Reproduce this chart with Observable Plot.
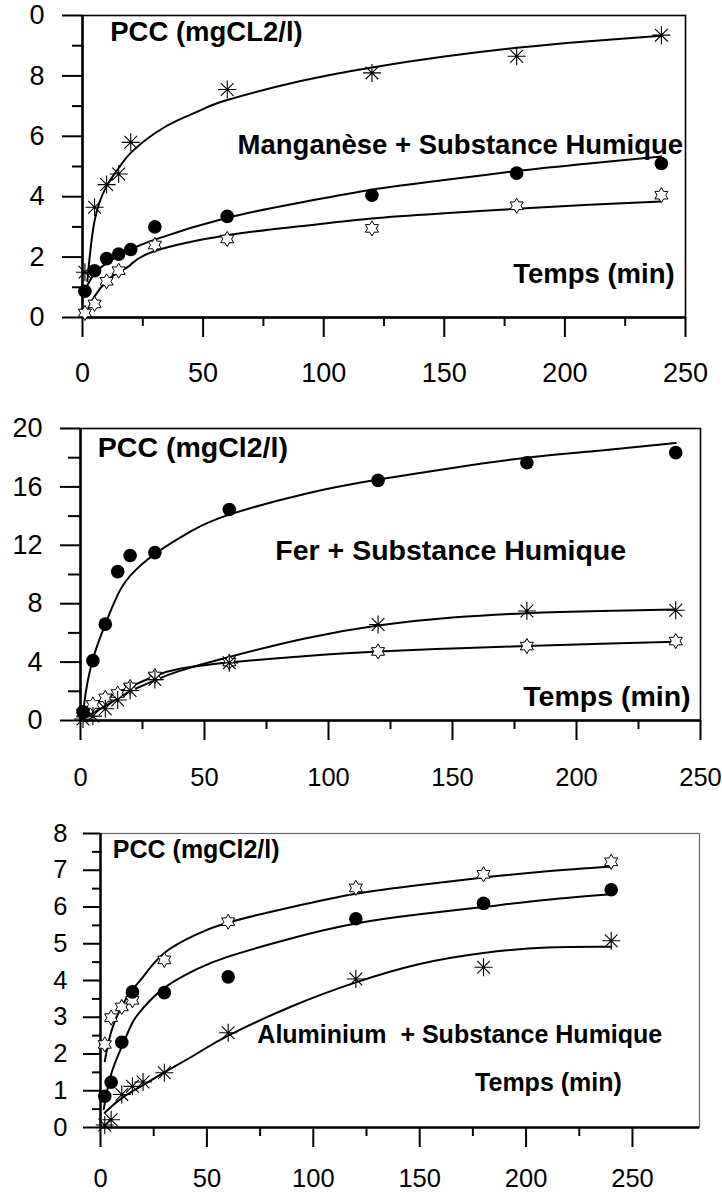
<!DOCTYPE html>
<html><head><meta charset="utf-8">
<script src="https://cdn.jsdelivr.net/npm/d3@7"></script>
<script src="https://cdn.jsdelivr.net/npm/@observablehq/plot@0.6"></script>
<style>
html,body{margin:0;padding:0;background:#fff;}
#chart{width:722px;}
#chart svg{display:block;}
#chart text{white-space:pre;}
</style></head><body><div id="chart"></div>
<script>
// ---------- Panel 1 : Manganèse + Substance Humique ----------
const mnTimes = [1, 5, 10, 15, 20, 30, 60, 120, 180, 240];
const mnCircle = [0.87, 1.55, 1.95, 2.1, 2.25, 3.0, 3.35, 4.05, 4.78, 5.1];
const mnAsterTimes = [1, 5, 10, 15, 20, 60, 120, 180, 240];
const mnAster = [1.5, 3.65, 4.4, 4.75, 5.8, 7.55, 8.1, 8.65, 9.35];
const mnStarTimes = [1, 5, 10, 15, 30, 60, 120, 180, 240];
const mnStar = [0.15, 0.45, 1.2, 1.55, 2.4, 2.6, 2.95, 3.7, 4.05];
const mnFitTimes = [2, 5, 10, 15, 20, 30, 40, 50, 60, 90, 120, 150, 180, 210, 240];
const mnAsterFit = [1.2, 3.2, 4.35, 4.95, 5.45, 6.1, 6.55, 6.9, 7.2, 7.82, 8.28, 8.64, 8.93, 9.15, 9.33];
const mnCircleFitTimes = [1, 5, 10, 15, 20, 30, 60, 90, 120, 150, 180, 210, 240];
const mnCircleFit = [0.9, 1.45, 1.8, 2.05, 2.25, 2.58, 3.3, 3.8, 4.23, 4.55, 4.85, 5.1, 5.33];
const mnStarFitTimes = [2.5, 5, 10, 15, 20, 30, 60, 90, 120, 150, 180, 210, 240];
const mnStarFit = [0.3, 0.7, 1.2, 1.5, 1.75, 2.2, 2.72, 3.02, 3.28, 3.45, 3.6, 3.73, 3.84];
const mnYTicks = [0, 2, 4, 6, 8, 10];
const mnYTickLabels = ["0", "2", "4", "6", "8", "0"];
const mnYMinor = [1, 3, 5, 7, 9];

// ---------- Panel 2 : Fer + Substance Humique ----------
const feTimes = [1, 5, 10, 15, 20, 30, 60, 120, 180, 240];
const feCircle = [0.6, 4.1, 6.6, 10.2, 11.3, 11.5, 14.45, 16.45, 17.65, 18.35];
const feAster = [0.1, 0.3, 0.8, 1.4, 2.05, 2.8, 3.95, 6.58, 7.5, 7.55];
const feStar = [0.5, 1.1, 1.55, 1.85, 2.3, 3.05, 4.0, 4.73, 5.1, 5.44];
const feCircleFitTimes = [1, 2, 5, 10, 15, 20, 30, 45, 60, 90, 120, 150, 180, 210, 240];
const feCircleFit = [0.3, 1.8, 4.2, 6.6, 8.6, 9.9, 11.4, 13.0, 14.1, 15.5, 16.5, 17.3, 18.0, 18.5, 19.0];
const feFitTimes = [1, 5, 10, 15, 20, 30, 40, 60, 90, 120, 150, 180, 210, 240];
const feAsterFit = [0.1, 0.5, 1.0, 1.5, 2.0, 2.75, 3.4, 4.35, 5.6, 6.5, 7.05, 7.35, 7.5, 7.6];
const feStarFit = [0.7, 1.1, 1.5, 1.9, 2.3, 3.05, 3.55, 3.97, 4.4, 4.72, 4.93, 5.1, 5.25, 5.4];
const feYTicks = [0, 4, 8, 12, 16, 20];
const feYTickLabels = ["0", "4", "8", "12", "16", "20"];
const feYMinor = [2, 6, 10, 14, 18];

// ---------- Panel 3 : Aluminium + Substance Humique ----------
const alTimes = [2, 5, 10, 15, 30, 60, 120, 180, 240];
const alCircle = [0.85, 1.23, 2.32, 3.69, 3.67, 4.1, 5.68, 6.1, 6.47];
const alStar = [2.26, 2.99, 3.28, 3.46, 4.56, 5.6, 6.52, 6.89, 7.23];
const alAsterTimes = [2, 5, 10, 15, 20, 30, 60, 120, 180, 240];
const alAster = [0.07, 0.21, 0.9, 1.12, 1.24, 1.49, 2.58, 4.04, 4.36, 5.08];
const alStarFitTimes = [2, 5, 10, 15, 20, 30, 45, 60, 90, 120, 150, 180, 210, 240];
const alStarFit = [1.8, 2.6, 3.3, 3.75, 4.1, 4.75, 5.25, 5.58, 6.0, 6.36, 6.6, 6.8, 6.97, 7.1];
const alCircleFitTimes = [1.5, 5, 10, 15, 20, 30, 45, 60, 90, 120, 150, 180, 210, 240];
const alCircleFit = [0.5, 1.45, 2.2, 2.85, 3.25, 3.8, 4.3, 4.65, 5.15, 5.55, 5.8, 6.0, 6.2, 6.35];
const alAsterFitTimes = [2, 10, 20, 30, 45, 60, 90, 120, 150, 180, 210, 240];
const alAsterFit = [0.4, 0.8, 1.15, 1.5, 2.0, 2.5, 3.3, 3.95, 4.45, 4.75, 4.9, 4.92];
const alYTicks = [0, 1, 2, 3, 4, 5, 6, 7, 8];
const alYTickLabels = ["0", "1", "2", "3", "4", "5", "6", "7", "8"];
const alYMinor = [0.5, 1.5, 2.5, 3.5, 4.5, 5.5, 6.5, 7.5];

const xTicks = [0, 50, 100, 150, 200, 250];
const xTickLabels = ["0", "50", "100", "150", "200", "250"];
const xMinor = [25, 75, 125, 175, 225];

// ---------- symbols ----------
const hexagram = {
  draw(ctx, size) {
    const R = Math.sqrt(size / Math.PI) * 1.05;
    const r = R / Math.sqrt(3);
    for (let i = 0; i < 12; i++) {
      const a = -Math.PI / 2 + i * Math.PI / 6;
      const rr = i % 2 === 0 ? R : r;
      const x = rr * Math.cos(a), y = rr * Math.sin(a);
      if (i === 0) ctx.moveTo(x, y); else ctx.lineTo(x, y);
    }
    ctx.closePath();
  }
};
const asterisk8 = {
  draw(ctx, size) {
    const R = Math.sqrt(size / Math.PI);
    for (let i = 0; i < 4; i++) {
      const a = i * Math.PI / 4;
      const dx = R * Math.cos(a), dy = R * Math.sin(a);
      ctx.moveTo(-dx, -dy); ctx.lineTo(dx, dy);
    }
  }
};

const zip = (ts, vs) => ts.map((t, i) => ({t, v: vs[i]}));
const FONT = "'Liberation Sans', Arial, sans-serif";

function panel(cfg) {
  const yMap = new Map(cfg.yTicks.map((d, i) => [d, cfg.yLabels[i]]));
  const xMap = new Map(xTicks.map((d, i) => [d, xTickLabels[i]]));
  const marks = [
    Plot.frame({stroke: cfg.frameColor, strokeWidth: cfg.frameWidth}),
    Plot.ruleX([0], {strokeWidth: 2.5}),
    Plot.ruleY([0], {strokeWidth: 2.5}),
    Plot.axisY(cfg.yTicks, {tickSize: cfg.yTickSize, tickPadding: cfg.yPad, tickFormat: d => yMap.get(d), fontSize: cfg.tickFont, strokeWidth: 2, label: null}),
    Plot.axisY(cfg.yMinor, {tickSize: cfg.yMinorSize, tickFormat: () => "", strokeWidth: 2, label: null}),
    Plot.axisX(xTicks, {tickSize: 20, tickPadding: cfg.xPad, tickFormat: d => xMap.get(d), fontSize: cfg.xTickFont, strokeWidth: 2, label: null}),
    Plot.axisX(xMinor, {tickSize: 9, tickFormat: () => "", strokeWidth: 2, label: null})
  ];
  for (const f of cfg.fits) marks.push(Plot.line(f, {x: "t", y: "v", curve: "natural", stroke: "black", strokeWidth: 2}));
  for (const s of cfg.series) {
    if (s.kind === "circle") marks.push(Plot.dot(s.data, {x: "t", y: "v", r: 6.8, fill: "black", stroke: "none"}));
    if (s.kind === "star") marks.push(Plot.dot(s.data, {x: "t", y: "v", r: 7.2, symbol: hexagram, fill: "white", stroke: "black", strokeWidth: 1}));
    if (s.kind === "aster") marks.push(Plot.dot(s.data, {x: "t", y: "v", r: 9, symbol: asterisk8, fill: "none", stroke: "black", strokeWidth: 1.1}));
  }
  for (const n of cfg.notes) {
    marks.push(Plot.text([n.text], {x: () => n.x, y: () => n.y, text: d => d, textAnchor: n.anchor, fontSize: cfg.noteFont, fontWeight: "bold", fill: "black"}));
  }
  return Plot.plot({
    width: 722, height: cfg.height,
    marginTop: cfg.mt, marginBottom: cfg.mb, marginLeft: cfg.ml, marginRight: cfg.mr,
    x: {domain: cfg.xDomain, label: null},
    y: {domain: cfg.yDomain, label: null},
    style: {fontFamily: FONT, color: "black", background: "white", overflow: "visible"},
    marks
  });
}

const chart = document.getElementById("chart");
chart.append(panel({
  height: 400, mt: 15, mb: 83, ml: 82, mr: 37, xDomain: [0, 250], yDomain: [0, 10],
  yTicks: mnYTicks, yLabels: mnYTickLabels, yMinor: mnYMinor, yTickSize: 20, yMinorSize: 10, yPad: 18, xPad: 25,
  tickFont: 27, xTickFont: 27, noteFont: 27.5,
  frameColor: "black", frameWidth: 1.6,
  fits: [zip(mnFitTimes, mnAsterFit), zip(mnCircleFitTimes, mnCircleFit), zip(mnStarFitTimes, mnStarFit)],
  series: [
    {kind: "aster", data: zip(mnAsterTimes, mnAster)},
    {kind: "circle", data: zip(mnTimes, mnCircle)},
    {kind: "star", data: zip(mnStarTimes, mnStar)}
  ],
  notes: [
    {text: "PCC (mgCL2/l)", x: 11.5, y: 9.45, anchor: "start"},
    {text: "Manganèse + Substance Humique", x: 249, y: 5.7, anchor: "end"},
    {text: "Temps (min)", x: 245.5, y: 1.45, anchor: "end"}
  ]
}));
chart.append(panel({
  height: 400, mt: 28, mb: 80, ml: 80, mr: 22, xDomain: [0, 250], yDomain: [0, 20],
  yTicks: feYTicks, yLabels: feYTickLabels, yMinor: feYMinor, yTickSize: 20, yMinorSize: 12, yPad: 18, xPad: 27,
  tickFont: 27, xTickFont: 25.5, noteFont: 28.5,
  frameColor: "black", frameWidth: 1.6,
  fits: [zip(feCircleFitTimes, feCircleFit), zip(feFitTimes, feAsterFit), zip(feFitTimes, feStarFit)],
  series: [
    {kind: "star", data: zip(feTimes, feStar)},
    {kind: "aster", data: zip(feTimes, feAster)},
    {kind: "circle", data: zip(feTimes, feCircle)}
  ],
  notes: [
    {text: "PCC (mgCl2/l)", x: 7, y: 18.7, anchor: "start"},
    {text: "Fer + Substance Humique", x: 220, y: 11.6, anchor: "end"},
    {text: "Temps (min)", x: 246, y: 1.62, anchor: "end"}
  ]
}));
chart.append(panel({
  height: 396, mt: 33, mb: 69, ml: 100, mr: 23, xDomain: [0, 281.5], yDomain: [0, 8],
  yTicks: alYTicks, yLabels: alYTickLabels, yMinor: alYMinor, yTickSize: 17, yMinorSize: 8, yPad: 16, xPad: 21,
  tickFont: 25.5, xTickFont: 25.5, noteFont: 25,
  frameColor: "#666", frameWidth: 1.2,
  fits: [zip(alStarFitTimes, alStarFit), zip(alCircleFitTimes, alCircleFit), zip(alAsterFitTimes, alAsterFit)],
  series: [
    {kind: "star", data: zip(alTimes, alStar)},
    {kind: "circle", data: zip(alTimes, alCircle)},
    {kind: "aster", data: zip(alAsterTimes, alAster)}
  ],
  notes: [
    {text: "PCC (mgCl2/l)", x: 5.8, y: 7.55, anchor: "start"},
    {text: "Aluminium  + Substance Humique", x: 264, y: 2.53, anchor: "end"},
    {text: "Temps (min)", x: 245, y: 1.22, anchor: "end"}
  ]
}));
</script>
</body></html>
